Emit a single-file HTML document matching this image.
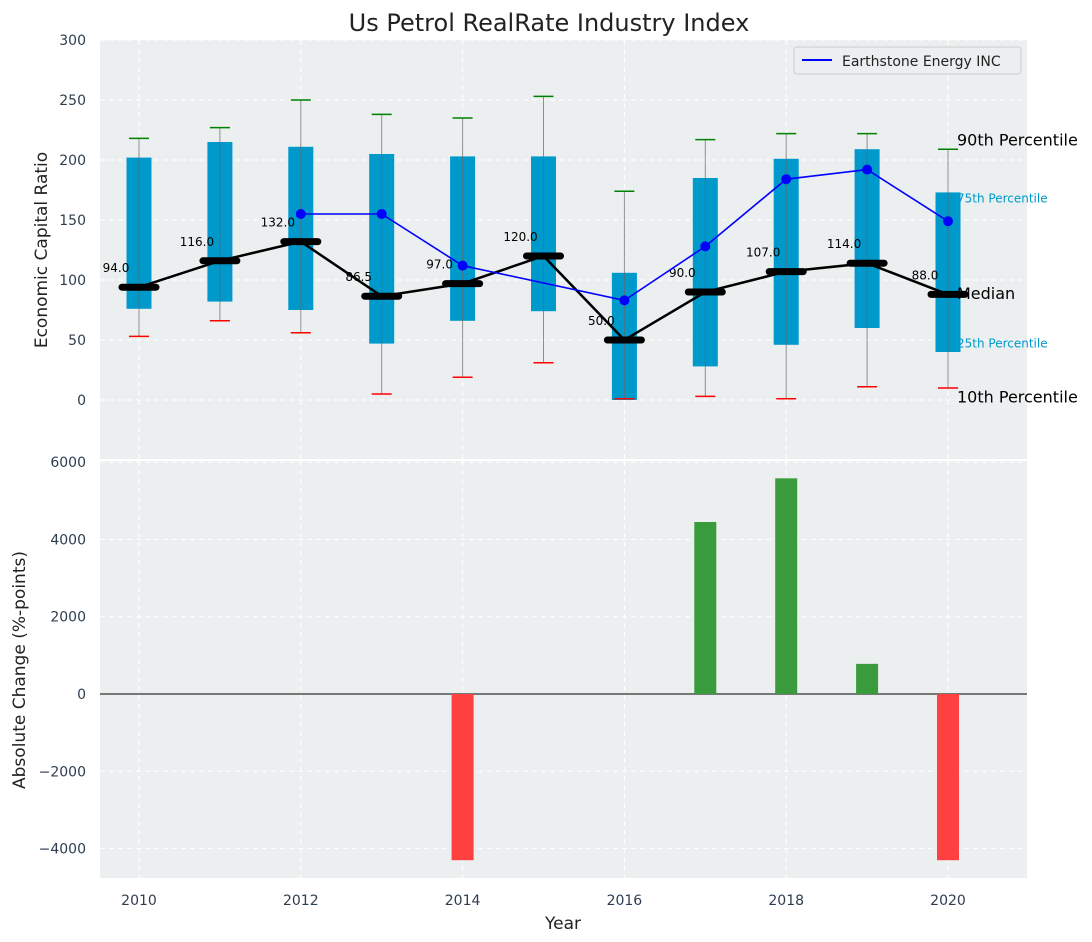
<!DOCTYPE html>
<html><head><meta charset="utf-8">
<style>
body{margin:0;background:#fff;}
svg{display:block;font-family:"DejaVu Sans","Liberation Sans",sans-serif;}
</style></head>
<body>
<svg id="chart" width="1092" height="942" viewBox="0 0 1092 942" xmlns="http://www.w3.org/2000/svg">
<text x="549" y="31" text-anchor="middle" font-size="24" fill="#222">Us Petrol RealRate Industry Index</text>
<rect x="100" y="40" width="927" height="419" fill="#ebeff0"/>
<rect x="100" y="461" width="927" height="417" fill="#ebeff0"/>
<g id="grid"></g>
<g id="under"></g>
<g id="marks"></g>
<text transform="translate(47,250) rotate(-90)" text-anchor="middle" font-size="17" fill="#222">Economic Capital Ratio</text>
<text transform="translate(25,670) rotate(-90)" text-anchor="middle" font-size="17" fill="#222">Absolute Change (%-points)</text>
<text x="563" y="929" text-anchor="middle" font-size="17" fill="#222">Year</text>
<g>
<rect x="794" y="47" width="227" height="27" fill="#ebeff0" stroke="#ccc" rx="3"/>
<line x1="802" y1="60" x2="832" y2="60" stroke="blue" stroke-width="2"/>
<text x="842" y="66" font-size="14" fill="#222">Earthstone Energy INC</text>
</g>
</svg>
<script>
const years=[2010,2011,2012,2013,2014,2015,2016,2017,2018,2019,2020];
const p10=[53,66,56,5,19,31,1,3,1,11,10];
const p25=[76,82,75,47,66,74,0,28,46,60,40];
const median=[94,116,132,86.5,97,120,50,90,107,114,88];
const p75=[202,215,211,205,203,203,106,185,201,209,173];
const p90=[218,227,250,238,235,253,174,217,222,222,209];
const compYears=[2012,2013,2014,2016,2017,2018,2019,2020];
const compVals=[155,155,112,83,128,184,192,149];
const changeYears=[2014,2017,2018,2019,2020];
const changeVals=[-4300,4450,5580,780,-4300];
const topTicks=[0,50,100,150,200,250,300];
const botTicks=[-4000,-2000,0,2000,4000,6000];
const xTicks=[2010,2012,2014,2016,2018,2020];

const NS="http://www.w3.org/2000/svg";
const X=y=>139+(y-2010)*80.9;
const YT=v=>400-v*1.2;
const YB=v=>694-v*0.03865;
const grid=document.getElementById('grid'),marks=document.getElementById('marks'),under=document.getElementById('under');
function mk(tag,attrs,parent){const e=document.createElementNS(NS,tag);for(const k in attrs)e.setAttribute(k,attrs[k]);parent.appendChild(e);return e;}

xTicks.forEach(t=>{
  let l=mk('line',{x1:X(t),x2:X(t),y1:40,y2:459,stroke:'#fff','stroke-dasharray':'5,4','stroke-width':1},grid);
  
  let l2=mk('line',{x1:X(t),x2:X(t),y1:461,y2:878,stroke:'#fff','stroke-dasharray':'5,4','stroke-width':1},grid);
  
  let tx=mk('text',{x:X(t),y:905,'text-anchor':'middle','font-size':14,fill:'#2d3e50'},grid);tx.textContent=t;
  
});
topTicks.forEach(t=>{
  let l=mk('line',{x1:100,x2:1027,y1:YT(t),y2:YT(t),stroke:'#fff','stroke-dasharray':'5,4'},grid);
  
  let tx=mk('text',{x:86,y:YT(t)+5,'text-anchor':'end','font-size':14,fill:'#2d3e50'},grid);tx.textContent=t;
  
});
botTicks.forEach(t=>{
  let l=mk('line',{x1:100,x2:1027,y1:YB(t),y2:YB(t),stroke:'#fff','stroke-dasharray':'5,4'},grid);
  
  let tx=mk('text',{x:86,y:YB(t)+5,'text-anchor':'end','font-size':14,fill:'#2d3e50'},grid);tx.textContent=t===0?'0':(t<0?'\u2212'+(-t):t);
  
});

const last=years.length-1,lx=X(years[last])+9;
[['75th Percentile',p75[last]-5,'label-75th'],['25th Percentile',p25[last]+7,'label-25th']].forEach(a=>{
  let t=mk('text',{x:lx,y:YT(a[1])+4,'font-size':12,fill:'#0099cc'},under);t.textContent=a[0];
  
});

years.forEach((y,i)=>{
  const x=X(y);
  let b=mk('rect',{x:x-12.5,y:YT(p75[i]),width:25,height:YT(p25[i])-YT(p75[i]),fill:'#0099cc'},marks);
  
  let w=mk('line',{x1:x,x2:x,y1:YT(p10[i]),y2:YT(p90[i]),stroke:'#666','stroke-width':1,opacity:0.7},marks);
  
  let c1=mk('line',{x1:x-10,x2:x+10,y1:YT(p90[i]),y2:YT(p90[i]),stroke:'green','stroke-width':1.5},marks);
  
  let c2=mk('line',{x1:x-10,x2:x+10,y1:YT(p10[i]),y2:YT(p10[i]),stroke:'red','stroke-width':1.5},marks);
  
});
let mp=mk('polyline',{points:years.map((y,i)=>X(y)+','+YT(median[i])).join(' '),fill:'none',stroke:'#000','stroke-width':2.5},marks);

years.forEach((y,i)=>{
  const x=X(y);
  let m=mk('line',{x1:x-17,x2:x+17,y1:YT(median[i]),y2:YT(median[i]),stroke:'#000','stroke-width':7,'stroke-linecap':'round'},marks);
  
  let t=mk('text',{x:x-23,y:YT(median[i])-15,'text-anchor':'middle','font-size':12,fill:'#000'},marks);t.textContent=median[i].toFixed(1);
  
});
let cl=mk('polyline',{points:compYears.map((y,i)=>X(y)+','+YT(compVals[i])).join(' '),fill:'none',stroke:'blue','stroke-width':1.6},marks);

compYears.forEach((y,i)=>{
  let c=mk('circle',{cx:X(y),cy:YT(compVals[i]),r:5,fill:'blue'},marks);
  
});
[['90th Percentile',p90[last]+8,'label-90th'],['Median',median[last]+1,'label-median'],['10th Percentile',p10[last]-7,'label-10th']].forEach(a=>{
  let t=mk('text',{x:lx,y:YT(a[1])+6,'font-size':16,fill:'#000'},marks);t.textContent=a[0];
  
});
let z=mk('line',{x1:100,x2:1027,y1:YB(0),y2:YB(0),stroke:'#000','stroke-width':1},marks);

changeYears.forEach((y,i)=>{
  const v=changeVals[i];
  let r=mk('rect',{x:X(y)-11,y:Math.min(YB(v),YB(0)),width:22,height:Math.abs(YB(v)-YB(0)),fill:v>=0?'#3a9b3c':'#ff4040'},marks);
  
});
</script>
</body></html>
